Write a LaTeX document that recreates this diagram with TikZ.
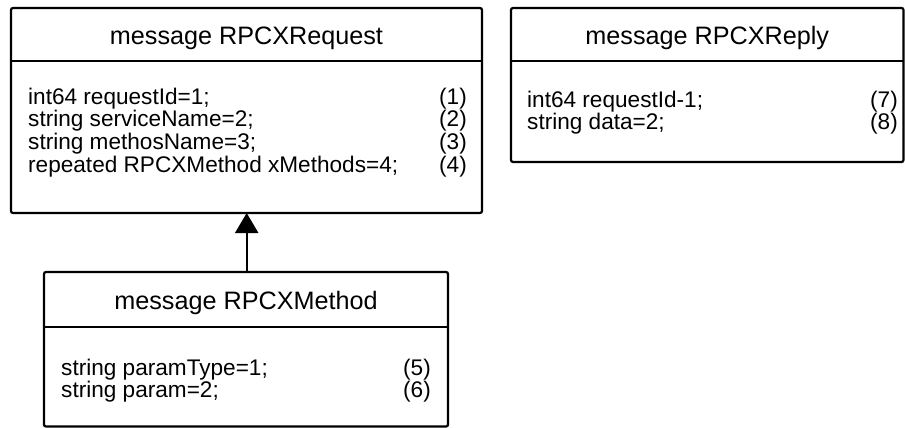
\documentclass[tikz,border=0pt]{standalone}
\usepackage{fontspec}
\setmainfont{Liberation Sans}
\usetikzlibrary{arrows.meta}
\begin{document}
\begin{tikzpicture}[x=1pt,y=-1pt,
  msgbox/.style={draw, line width=2.2pt, rounded corners=2pt, inner sep=0pt, outer sep=0pt},
  divider/.style={line width=2.2pt},
  msgtitle/.style={inner sep=0pt, anchor=base, font=\fontsize{25.2}{30}\selectfont},
  field/.style={inner sep=0pt, anchor=base west, font=\fontsize{22.6}{27}\selectfont},
  tag/.style={inner sep=0pt, anchor=base east, font=\fontsize{22.6}{27}\selectfont},
  inherit/.style={line width=2.2pt, -{Triangle[length=20pt,width=23pt]}}
]
\useasboundingbox (0,0) rectangle (905,428);

% message RPCXRequest
\node[msgbox, minimum width=471pt, minimum height=205pt] (req) at (246.5,110.5) {};
\coordinate (reqdiv) at (0,61);
\draw[divider] (req.west |- reqdiv) -- (req.east |- reqdiv);
\node[msgtitle] (reqtitle) at (246.5,45) {message RPCXRequest};
\node[field] (reqf1) at (28,104)   {int64 requestId=1;};
\node[field] (reqf2) at (28,126.8) {string serviceName=2;};
\node[field] (reqf3) at (28,149.6) {string methosName=3;};
\node[field] (reqf4) at (28,172.4) {repeated RPCXMethod xMethods=4;};
\node[tag] (reqt1) at (467,104)   {(1)};
\node[tag] (reqt2) at (467,126.8) {(2)};
\node[tag] (reqt3) at (467,149.6) {(3)};
\node[tag] (reqt4) at (467,172.4) {(4)};

% message RPCXReply
\node[msgbox, minimum width=392.5pt, minimum height=154pt] (rep) at (707.25,85) {};
\coordinate (repdiv) at (0,61);
\draw[divider] (rep.west |- repdiv) -- (rep.east |- repdiv);
\node[msgtitle] (reptitle) at (707.25,45) {message RPCXReply};
\node[field] (repf1) at (527,107) {int64 requestId-1;};
\node[field] (repf2) at (527,129.8) {string data=2;};
\node[tag] (rept1) at (898,107) {(7)};
\node[tag] (rept2) at (898,129.8) {(8)};

% message RPCXMethod
\node[msgbox, minimum width=404pt, minimum height=154.5pt] (meth) at (246,349.25) {};
\coordinate (methdiv) at (0,327);
\draw[divider] (meth.west |- methdiv) -- (meth.east |- methdiv);
\node[msgtitle] (methtitle) at (246,309) {message RPCXMethod};
\node[field] (methf1) at (61,375)   {string paramType=1;};
\node[field] (methf2) at (61,397.8) {string param=2;};
\node[tag] (metht1) at (431,375)   {(5)};
\node[tag] (metht2) at (431,397.8) {(6)};

% RPCXMethod is nested in RPCXRequest
\draw[inherit] (meth.north -| 246.7,0) -- (req.south -| 246.7,0);
\end{tikzpicture}
\end{document}
